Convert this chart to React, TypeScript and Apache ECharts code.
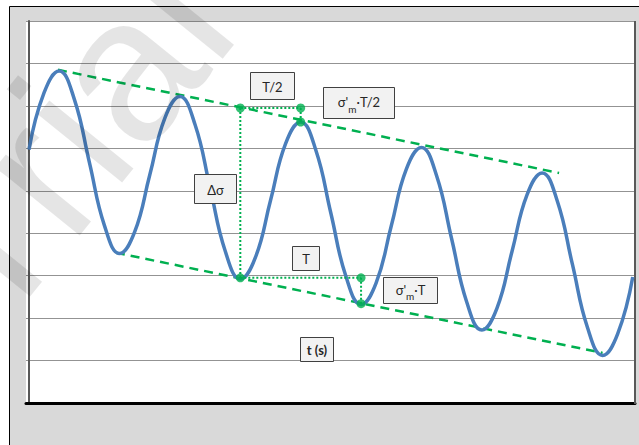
import React, { useEffect, useRef } from "react";
import * as echarts from "echarts";

// time (s) of each sampled point of the stress signal
const tValues = [
  0, 0.125, 0.25, 0.375, 0.5, 0.625, 0.75, 0.875, 1, 1.125, 1.25, 1.375, 1.5, 1.625, 1.75, 1.875,
  2, 2.125, 2.25, 2.375, 2.5, 2.625, 2.75, 2.875, 3, 3.125, 3.25, 3.375, 3.5, 3.625, 3.75, 3.875,
  4, 4.125, 4.25, 4.375, 4.5, 4.625, 4.75, 4.875, 5,
];
// stress values
const sigmaValues = [
  5.97, 7.31, 7.82, 7.16, 5.67, 4.18, 3.52, 4.03, 5.37, 6.71, 7.22, 6.56, 5.07, 3.58, 2.92, 3.43,
  4.77, 6.11, 6.62, 5.96, 4.47, 2.98, 2.32, 2.83, 4.17, 5.51, 6.02, 5.36, 3.87, 2.38, 1.72, 2.23,
  3.57, 4.91, 5.42, 4.76, 3.27, 1.78, 1.12, 1.63, 2.97,
];

// envelope lines (dashed)
const upperEnvT = [0.24, 4.39];
const upperEnvS = [7.85, 5.42];
const lowerEnvT = [0.72, 4.75];
const lowerEnvS = [3.54, 1.18];

// dotted construction lines
const deltaSigmaT = [1.75, 1.75];
const deltaSigmaS = [6.95, 2.95];
const halfPeriodT = [1.75, 2.25];
const halfPeriodS = [6.95, 6.95];
const halfDropT = [2.25, 2.25];
const halfDropS = [6.95, 6.62];
const periodT = [1.75, 2.75];
const periodS = [2.95, 2.95];
const periodDropT = [2.75, 2.75];
const periodDropS = [2.95, 2.34];

// green markers
const markerT = [1.75, 2.25, 2.25, 1.75, 2.75, 2.75];
const markerS = [6.95, 6.95, 6.62, 2.95, 2.95, 2.34];

// annotation texts
const labelTexts = ["T/2", "{n|σ'}{s|m}{n|·T/2}", "Δσ", "T", "{n|σ'}{s|m}{n|·T}", "t (s)"];
const labelBold = [false, false, false, false, false, true];
const watermarkText = "Trial";

const zip = (a: number[], b: number[]) => a.map((v, i) => [v, b[i]]);

const GREEN = "#00b050";

// label box layout (pixels): x, y, w, h
const labelBoxes = [
  [250, 72, 44, 27],
  [323, 87, 71, 31],
  [194, 174, 42, 29],
  [292, 246, 27, 24],
  [383, 277, 54, 26],
  [300, 337, 33, 24],
];

export default function App() {
  const ref = useRef<HTMLDivElement>(null);
  useEffect(() => {
    const chart = echarts.init(ref.current!, null, { renderer: "svg" });
    const dottedLine = (name: string, t: number[], s: number[]) => ({
      name,
      type: "line",
      data: zip(t, s),
      symbol: "none",
      lineStyle: { color: GREEN, width: 2, type: [2, 2] },
      z: 4,
    });
    const labels: any[] = [];
    labelTexts.forEach((txt, i) => {
      const [x, y, w, h] = labelBoxes[i];
      labels.push({
        type: "rect",
        shape: { x: x + 0.5, y: y + 0.5, width: w, height: h },
        style: { fill: "#f2f2f2", stroke: "#404040", lineWidth: 1 },
        z: 50,
      });
      labels.push({
        type: "text",
        x: x + w / 2 + 0.5,
        y: y + h / 2 + 1,
        style: {
          text: txt,
          fill: "#262626",
          font: `${labelBold[i] ? "bold " : ""}13px Lato`,
          align: "center",
          verticalAlign: "middle",
          rich: {
            n: { fontSize: 13, fontFamily: "Lato", fill: "#262626", lineHeight: 16, verticalAlign: "top" },
            s: { fontSize: 10, fontFamily: "Lato", fill: "#262626", lineHeight: 16, padding: [8, 0, 0, 0], verticalAlign: "top" },
          },
        },
        z: 51,
      });
    });

    chart.setOption({
      animation: false,
      backgroundColor: "#ffffff",
      grid: { left: 26, top: 21, right: 4, bottom: 42, show: false },
      xAxis: {
        type: "value",
        min: -0.0248,
        max: 5.0186,
        axisLine: { show: true, onZero: false, lineStyle: { color: "#000", width: 3 } },
        axisTick: { show: false },
        axisLabel: { show: false },
        splitLine: { show: false },
      },
      yAxis: {
        type: "value",
        min: 0,
        max: 9,
        interval: 1,
        axisLine: { show: true, lineStyle: { color: "#595959", width: 2 } },
        axisTick: { show: false },
        axisLabel: { show: false },
        splitLine: { show: true, lineStyle: { color: "#939393", width: 1 } },
      },
      graphic: [
        {
          type: "rect",
          shape: { x: 9.5, y: 6.5, width: 640, height: 450 },
          style: { fill: "#d9d9d9", stroke: "#000", lineWidth: 1 },
          z: -20,
          silent: true,
        },
        {
          type: "rect",
          shape: { x: 26, y: 21, width: 609, height: 382 },
          style: { fill: "#ffffff" },
          z: -19,
          silent: true,
        },
        {
          type: "line",
          shape: { x1: 635, y1: 21, x2: 635, y2: 404 },
          style: { stroke: "#595959", lineWidth: 2 },
          z: 3,
          silent: true,
        },
        ...labels,
        {
          type: "text",
          x: 187,
          y: -11,
          rotation: (51 * Math.PI) / 180,
          style: {
            text: watermarkText,
            font: "205px 'Liberation Sans'",
            fill: "rgba(0,0,0,0.1)",
            align: "right",
            verticalAlign: "middle",
          },
          z: 100,
          silent: true,
        },
      ],
      series: [
        {
          name: "upper envelope",
          type: "line",
          data: zip(upperEnvT, upperEnvS),
          symbol: "none",
          lineStyle: { color: GREEN, width: 2.5, type: [9, 6] },
          z: 2,
        },
        {
          name: "lower envelope",
          type: "line",
          data: zip(lowerEnvT, lowerEnvS),
          symbol: "none",
          lineStyle: { color: GREEN, width: 2.5, type: [9, 6] },
          z: 2,
        },
        {
          name: "sigma",
          type: "line",
          data: zip(tValues, sigmaValues),
          symbol: "none",
          smooth: 0.45,
          lineStyle: { color: "#4a7ebb", width: 3.5 },
          z: 3,
        },
        dottedLine("delta sigma", deltaSigmaT, deltaSigmaS),
        dottedLine("half period", halfPeriodT, halfPeriodS),
        dottedLine("half drop", halfDropT, halfDropS),
        dottedLine("period", periodT, periodS),
        dottedLine("period drop", periodDropT, periodDropS),
        {
          name: "markers",
          type: "scatter",
          data: zip(markerT, markerS),
          symbol: "circle",
          symbolSize: 9,
          itemStyle: { color: GREEN },
          z: 5,
        },
      ],
    });
    return () => chart.dispose();
  }, []);
  return (
    <div
      ref={ref}
      style={{ position: "fixed", left: 0, top: 0, width: 639, height: 445 }}
    />
  );
}
